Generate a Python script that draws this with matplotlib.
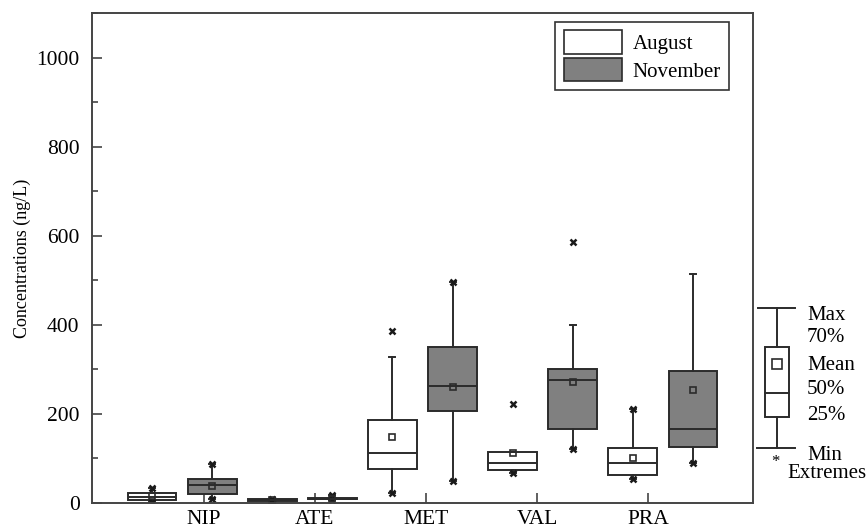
"""Box plots of beta-blocker concentrations, August vs November."""

import matplotlib
matplotlib.use("Agg")
import matplotlib.pyplot as plt
from matplotlib.patches import Patch, Rectangle
from matplotlib.ticker import MultipleLocator

plt.rcParams["font.family"] = ["Liberation Serif", "DejaVu Serif"]

compounds = ["NIP", "ATE", "MET", "VAL", "PRA"]
seasons = ["August", "November"]

# one entry per box, ordered NIP-Aug, NIP-Nov, ATE-Aug, ... PRA-Nov
q1      = [7, 20, 5, 8, 77, 206, 74, 167, 62, 126]
median  = [13, 40, 7, 10, 113, 263, 89, 277, 90, 167]
q3      = [22, 54, 9, 12, 186, 350, 114, 300, 123, 296]
means   = [15, 39, 7, 10, 149, 261, 112, 271, 101, 253]
whislo  = [3, 9, 4, 6, 23, 49, 68, 122, 54, 89]
whishi  = [33, 87, 10, 18, 327, 496, 114, 399, 211, 513]
extremes = [
    [3, 33], [9, 87], [4, 10], [6, 18], [23, 386],
    [49, 496], [68, 222], [122, 586], [54, 211], [89],
]

FACE = {"August": "white", "November": "#808080"}
EDGE = "#2b2b2b"

fig = plt.figure(figsize=(8.67, 5.30), dpi=100)
ax = fig.add_axes([92 / 867, 27 / 530, 661 / 867, 490 / 530])

stats = []
for i in range(len(q1)):
    stats.append({
        "q1": q1[i], "med": median[i], "q3": q3[i], "mean": means[i],
        "whislo": whislo[i], "whishi": whishi[i], "fliers": extremes[i],
    })

positions = [i + 1 for i in range(len(stats))]
bp = ax.bxp(
    stats, positions=positions, widths=0.81, patch_artist=True,
    showmeans=True, showfliers=True, capwidths=0.1,
    boxprops={"edgecolor": EDGE, "linewidth": 1.4},
    medianprops={"color": EDGE, "linewidth": 1.4},
    whiskerprops={"color": EDGE, "linewidth": 1.4},
    capprops={"color": EDGE, "linewidth": 1.4},
    meanprops={"marker": "s", "markerfacecolor": "none",
               "markeredgecolor": EDGE, "markersize": 5, "markeredgewidth": 1.2},
    flierprops={"marker": "x", "markeredgecolor": "#1a1a1a",
                "markersize": 5, "markeredgewidth": 1.8},
)
for i, box in enumerate(bp["boxes"]):
    box.set_facecolor(FACE[seasons[i % 2]])

ax.set_xlim(0, 11)
ax.set_ylim(0, 1100)
ax.set_xticks([1.86, 3.71, 5.56, 7.41, 9.26])
ax.set_xticklabels(compounds)
ax.yaxis.set_major_locator(MultipleLocator(200))
ax.yaxis.set_minor_locator(MultipleLocator(100))
ax.set_yticks([0, 200, 400, 600, 800, 1000])
ax.tick_params(axis="both", which="major", direction="in", length=7,
               width=1.2, color="#444444", labelsize=15.5)
ax.tick_params(axis="y", which="major", pad=9)
ax.tick_params(axis="x", which="major", pad=5)
ax.tick_params(axis="y", which="minor", direction="in", length=4,
               width=1.2, color="#444444")
ax.tick_params(axis="x", which="minor", bottom=False)
for sp in ax.spines.values():
    sp.set_linewidth(1.4)
    sp.set_color("#444444")
ax.set_ylabel("Concentrations (ng/L)", fontsize=13, labelpad=4)

handles = [Patch(facecolor=FACE[s], edgecolor=EDGE, linewidth=1.2, label=s)
           for s in seasons]
ax.legend(handles=handles, loc="upper right",
          bbox_to_anchor=(0.9637, 0.982), borderaxespad=0, fontsize=15,
          handlelength=2.8, handleheight=1.35, labelspacing=0.2,
          handletextpad=0.5, borderpad=0.4, fancybox=False,
          edgecolor="#333333", framealpha=1)
ax.get_legend().get_frame().set_linewidth(1.2)

# key explaining the box elements, to the right of the axes (pixel coords)
kx = fig.add_axes([753 / 867, 0, 114 / 867, 1])
kx.set_xlim(753, 867)
kx.set_ylim(530, 0)
kx.axis("off")
kx.plot([758, 795], [308, 308], color=EDGE, lw=1.4)
kx.plot([757, 795], [448, 448], color=EDGE, lw=1.4)
kx.plot([777, 777], [308, 347], color=EDGE, lw=1.4)
kx.plot([777, 777], [417, 448], color=EDGE, lw=1.4)
kx.add_patch(Rectangle((765, 347), 24, 70, facecolor="white",
                       edgecolor=EDGE, lw=1.4))
kx.plot([765, 789], [393, 393], color=EDGE, lw=1.4)
kx.plot([777], [364], marker="s", markersize=7, markerfacecolor="none",
        markeredgecolor=EDGE, markeredgewidth=1.2)
kx.text(775, 462, "*", fontsize=12, ha="center", va="center")
key_labels = [("Max", 315), ("70%", 337), ("Mean", 365),
              ("50%", 390), ("25%", 416), ("Min", 455)]
for lbl, y in key_labels:
    kx.text(807, y, lbl, fontsize=15, ha="left", va="center")
kx.text(787, 474, "Extremes", fontsize=15, ha="left", va="center")

fig.savefig("out.png", dpi=100)
plt.close(fig)
